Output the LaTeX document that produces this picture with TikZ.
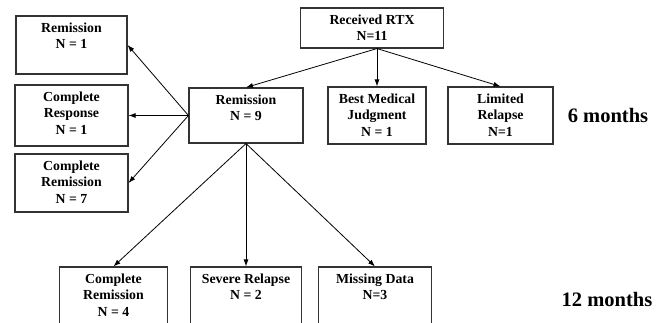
\documentclass[tikz,border=0pt]{standalone}
\usepackage{fontspec}
\setmainfont{Liberation Serif}
\usepackage{tikz}
\usetikzlibrary{arrows.meta}

\begin{document}
\begin{tikzpicture}[x=1pt, y=-1pt, >={Latex[length=7pt,width=5pt]},
  box/.style={rectangle, draw=black!80, line width=1.1pt, inner sep=0pt},
  txt/.style={anchor=north, align=center, yshift=-3.5pt, font=\bfseries\fontsize{13.8}{16.7}\selectfont},
  link/.style={->, line width=0.8pt}]
 			\useasboundingbox (0,0) rectangle (667,323);
 			\clip (0,0) rectangle (667,323);
 			\node (rtx) [box, minimum width=143pt, minimum height=40pt, label={[txt]north:Received RTX\\N=11}] at (372,28) {};
 			\node (rem9) [box, minimum width=114pt, minimum height=55pt, label={[txt]north:Remission\\N = 9}] at (246,115.5) {};
 			\node (bmj) [box, minimum width=98pt, minimum height=57pt, right of=rem9, node distance=131pt, label={[txt]north:Best Medical\\Judgment\\N = 1}] {};
 			\node (limrel) [box, minimum width=105pt, minimum height=57pt, right of=bmj, node distance=123.5pt, label={[txt]north:Limited\\Relapse\\N=1}] {};
 			\node (six) [right of=limrel, node distance=107.5pt, font=\bfseries\fontsize{20.5}{24}\selectfont] {6 months};
 			
 			\node (cresp) [box, minimum width=113pt, minimum height=61pt, left of=rem9, node distance=174.5pt, label={[txt]north:Complete\\Response\\N = 1}] {};
 			\node (rem1) [box, minimum width=111pt, minimum height=58pt, above of=cresp, node distance=70.5pt, label={[txt]north:Remission\\N = 1}] {};
 			\node (crem7) [box, minimum width=113pt, minimum height=58pt, below of=cresp, node distance=67.5pt, label={[txt]north:Complete\\Remission\\N = 7}] {};
 			
 			\node (sevrel) [box, minimum width=111pt, minimum height=70pt, below of=rem9, node distance=186.5pt, label={[txt]north:Severe Relapse\\N = 2}] {};
 			\node (crem4) [box, minimum width=108pt, minimum height=70pt, left of=sevrel, node distance=132.5pt, label={[txt]north:Complete\\Remission\\N = 4}] {};
 			\node (missing) [box, minimum width=113pt, minimum height=70pt, right of=sevrel, node distance=129pt, label={[txt]north:Missing Data\\N=3}] {};
 			\node (twelve) [font=\bfseries\fontsize{20.5}{24}\selectfont] at (607,299) {12 months};
 			
 			\draw[link] (rtx.south -| bmj) -- (rem9.north);
 			\draw[link] (rtx.south -| bmj) -- (bmj.north);
 			\draw[link] (rtx.south -| bmj) -- (limrel.north);
 			
 			\draw[link] (rem9.west) -- (rem1.east);
 			\draw[link] (rem9.west) -- (cresp.east);
 			\draw[link] (rem9.west) -- (crem7.east);
 			
 			\draw[link] (rem9.south) -- (crem4.north);
 			\draw[link] (rem9.south) -- (sevrel.north);
 			\draw[link] (rem9.south) -- (missing.north);
 		\end{tikzpicture}
\end{document}
